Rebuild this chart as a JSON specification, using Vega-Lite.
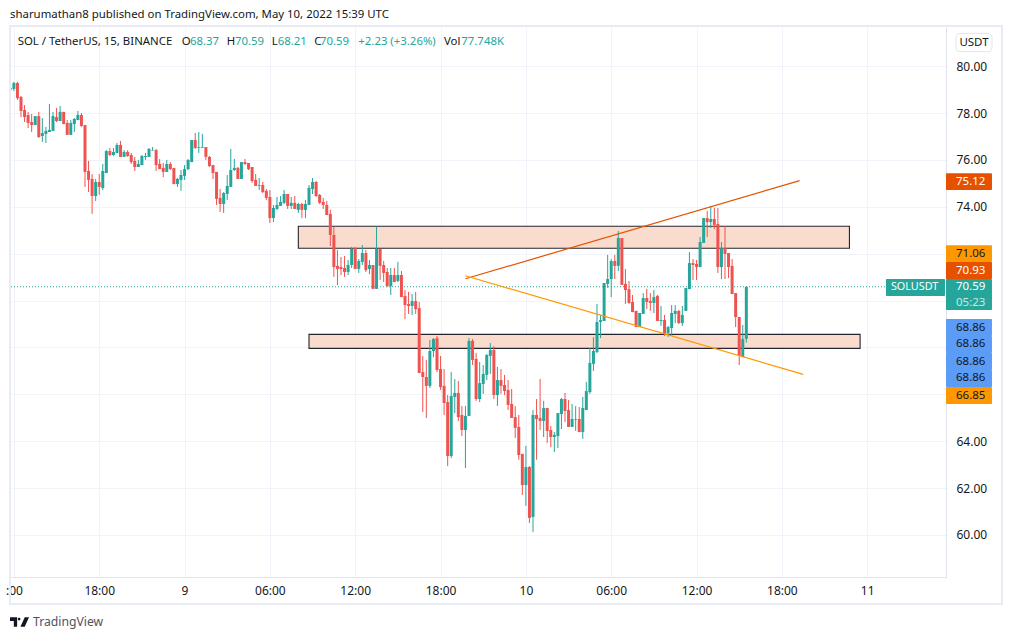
{"$schema":"https://vega.github.io/schema/vega-lite/v6.json","width":935,"height":550,"autosize":{"type":"none"},"padding":{"left":11,"top":27,"right":66,"bottom":63},"background":"#ffffff","view":{"stroke":null},"config":{"font":"Noto Sans","text":{"font":"Noto Sans"}},
"datasets":{"candles":[
{"t":"2022-05-08T11:45Z","o":78.99,"h":79.20,"l":78.77,"c":79.06},
{"t":"2022-05-08T12:00Z","o":79.03,"h":79.33,"l":78.94,"c":79.28},
{"t":"2022-05-08T12:15Z","o":79.28,"h":79.33,"l":78.56,"c":78.64},
{"t":"2022-05-08T12:30Z","o":78.69,"h":78.73,"l":77.83,"c":78.09},
{"t":"2022-05-08T12:45Z","o":78.13,"h":78.34,"l":77.62,"c":77.83},
{"t":"2022-05-08T13:00Z","o":77.92,"h":78.05,"l":77.36,"c":77.58},
{"t":"2022-05-08T13:15Z","o":77.62,"h":77.96,"l":77.19,"c":77.49},
{"t":"2022-05-08T13:30Z","o":77.49,"h":77.87,"l":77.49,"c":77.87},
{"t":"2022-05-08T13:45Z","o":77.87,"h":78.05,"l":76.94,"c":76.98},
{"t":"2022-05-08T14:00Z","o":77.02,"h":77.79,"l":76.77,"c":77.15},
{"t":"2022-05-08T14:15Z","o":77.11,"h":77.41,"l":76.72,"c":77.24},
{"t":"2022-05-08T14:30Z","o":77.19,"h":78.39,"l":77.19,"c":77.28},
{"t":"2022-05-08T14:45Z","o":77.24,"h":78.05,"l":77.24,"c":77.87},
{"t":"2022-05-08T15:00Z","o":77.83,"h":78.22,"l":77.62,"c":77.66},
{"t":"2022-05-08T15:15Z","o":77.66,"h":78.30,"l":77.66,"c":78.05},
{"t":"2022-05-08T15:30Z","o":78.05,"h":78.05,"l":77.53,"c":77.53},
{"t":"2022-05-08T15:45Z","o":77.58,"h":77.70,"l":77.07,"c":77.07},
{"t":"2022-05-08T16:00Z","o":77.07,"h":77.70,"l":77.07,"c":77.58},
{"t":"2022-05-08T16:15Z","o":77.53,"h":77.79,"l":77.19,"c":77.75},
{"t":"2022-05-08T16:30Z","o":77.70,"h":78.09,"l":77.70,"c":77.92},
{"t":"2022-05-08T16:45Z","o":77.92,"h":78.00,"l":77.41,"c":77.45},
{"t":"2022-05-08T17:00Z","o":77.49,"h":77.49,"l":74.85,"c":75.49},
{"t":"2022-05-08T17:15Z","o":75.53,"h":75.96,"l":74.63,"c":75.15},
{"t":"2022-05-08T17:30Z","o":75.19,"h":75.40,"l":73.70,"c":74.46},
{"t":"2022-05-08T17:45Z","o":74.46,"h":75.19,"l":74.25,"c":75.06},
{"t":"2022-05-08T18:00Z","o":75.06,"h":75.40,"l":74.51,"c":74.85},
{"t":"2022-05-08T18:15Z","o":74.80,"h":75.83,"l":74.72,"c":75.53},
{"t":"2022-05-08T18:30Z","o":75.44,"h":76.42,"l":75.44,"c":76.38},
{"t":"2022-05-08T18:45Z","o":76.38,"h":76.51,"l":76.17,"c":76.21},
{"t":"2022-05-08T19:00Z","o":76.21,"h":76.51,"l":76.17,"c":76.34},
{"t":"2022-05-08T19:15Z","o":76.30,"h":76.72,"l":76.30,"c":76.64},
{"t":"2022-05-08T19:30Z","o":76.64,"h":76.81,"l":76.13,"c":76.13},
{"t":"2022-05-08T19:45Z","o":76.13,"h":76.42,"l":76.13,"c":76.34},
{"t":"2022-05-08T20:00Z","o":76.34,"h":76.42,"l":76.13,"c":76.17},
{"t":"2022-05-08T20:15Z","o":76.21,"h":76.30,"l":75.83,"c":75.91},
{"t":"2022-05-08T20:30Z","o":75.96,"h":76.13,"l":75.53,"c":75.70},
{"t":"2022-05-08T20:45Z","o":75.70,"h":76.00,"l":75.70,"c":75.83},
{"t":"2022-05-08T21:00Z","o":75.78,"h":76.21,"l":75.78,"c":76.17},
{"t":"2022-05-08T21:15Z","o":76.13,"h":76.30,"l":76.00,"c":76.17},
{"t":"2022-05-08T21:30Z","o":76.13,"h":76.51,"l":76.13,"c":76.47},
{"t":"2022-05-08T21:45Z","o":76.40,"h":76.55,"l":76.40,"c":76.42},
{"t":"2022-05-08T22:00Z","o":76.42,"h":76.47,"l":75.53,"c":75.78},
{"t":"2022-05-08T22:15Z","o":75.83,"h":76.04,"l":75.61,"c":75.61},
{"t":"2022-05-08T22:30Z","o":75.66,"h":75.87,"l":75.27,"c":75.49},
{"t":"2022-05-08T22:45Z","o":75.49,"h":76.00,"l":75.49,"c":75.83},
{"t":"2022-05-08T23:00Z","o":75.83,"h":75.91,"l":75.57,"c":75.61},
{"t":"2022-05-08T23:15Z","o":75.66,"h":75.66,"l":74.97,"c":74.97},
{"t":"2022-05-08T23:30Z","o":74.97,"h":75.23,"l":74.85,"c":75.19},
{"t":"2022-05-08T23:45Z","o":75.15,"h":75.57,"l":74.68,"c":75.36},
{"t":"2022-05-09T00:00Z","o":75.32,"h":75.78,"l":75.15,"c":75.61},
{"t":"2022-05-09T00:15Z","o":75.61,"h":76.04,"l":75.57,"c":76.00},
{"t":"2022-05-09T00:30Z","o":75.91,"h":76.85,"l":75.91,"c":76.85},
{"t":"2022-05-09T00:45Z","o":76.85,"h":77.15,"l":76.47,"c":76.51},
{"t":"2022-05-09T01:00Z","o":76.51,"h":77.19,"l":76.30,"c":76.54},
{"t":"2022-05-09T01:15Z","o":76.52,"h":77.11,"l":76.51,"c":76.55},
{"t":"2022-05-09T01:30Z","o":76.55,"h":76.55,"l":76.00,"c":76.13},
{"t":"2022-05-09T01:45Z","o":76.13,"h":76.17,"l":75.70,"c":75.74},
{"t":"2022-05-09T02:00Z","o":75.78,"h":75.78,"l":75.19,"c":75.44},
{"t":"2022-05-09T02:15Z","o":75.49,"h":75.49,"l":74.08,"c":74.34},
{"t":"2022-05-09T02:30Z","o":74.38,"h":74.76,"l":73.78,"c":74.12},
{"t":"2022-05-09T02:45Z","o":74.12,"h":74.63,"l":73.74,"c":74.59},
{"t":"2022-05-09T03:00Z","o":74.55,"h":75.36,"l":74.29,"c":74.89},
{"t":"2022-05-09T03:15Z","o":74.85,"h":76.47,"l":74.85,"c":75.57},
{"t":"2022-05-09T03:30Z","o":75.57,"h":76.04,"l":75.53,"c":75.66},
{"t":"2022-05-09T03:45Z","o":75.66,"h":75.70,"l":75.19,"c":75.19},
{"t":"2022-05-09T04:00Z","o":75.19,"h":75.91,"l":75.19,"c":75.91},
{"t":"2022-05-09T04:15Z","o":75.91,"h":76.04,"l":75.78,"c":75.83},
{"t":"2022-05-09T04:30Z","o":75.87,"h":75.87,"l":75.57,"c":75.61},
{"t":"2022-05-09T04:45Z","o":75.70,"h":75.70,"l":75.02,"c":75.10},
{"t":"2022-05-09T05:00Z","o":75.15,"h":75.40,"l":74.89,"c":74.89},
{"t":"2022-05-09T05:15Z","o":74.90,"h":75.23,"l":74.72,"c":74.93},
{"t":"2022-05-09T05:30Z","o":74.93,"h":75.06,"l":74.59,"c":74.63},
{"t":"2022-05-09T05:45Z","o":74.68,"h":74.76,"l":74.29,"c":74.38},
{"t":"2022-05-09T06:00Z","o":74.42,"h":74.72,"l":73.31,"c":73.52},
{"t":"2022-05-09T06:15Z","o":73.52,"h":74.08,"l":73.35,"c":73.95},
{"t":"2022-05-09T06:30Z","o":73.91,"h":74.42,"l":73.87,"c":74.08},
{"t":"2022-05-09T06:45Z","o":74.04,"h":74.46,"l":74.04,"c":74.21},
{"t":"2022-05-09T07:00Z","o":74.17,"h":74.72,"l":74.12,"c":74.55},
{"t":"2022-05-09T07:15Z","o":74.55,"h":74.55,"l":73.91,"c":74.04},
{"t":"2022-05-09T07:30Z","o":74.04,"h":74.42,"l":73.91,"c":74.17},
{"t":"2022-05-09T07:45Z","o":74.17,"h":74.46,"l":73.91,"c":73.91},
{"t":"2022-05-09T08:00Z","o":73.87,"h":74.17,"l":73.74,"c":74.12},
{"t":"2022-05-09T08:15Z","o":74.12,"h":74.17,"l":73.52,"c":73.87},
{"t":"2022-05-09T08:30Z","o":73.87,"h":74.29,"l":73.52,"c":74.12},
{"t":"2022-05-09T08:45Z","o":74.08,"h":74.93,"l":74.08,"c":74.81},
{"t":"2022-05-09T09:00Z","o":74.76,"h":75.23,"l":74.55,"c":75.06},
{"t":"2022-05-09T09:15Z","o":75.06,"h":75.10,"l":74.42,"c":74.46},
{"t":"2022-05-09T09:30Z","o":74.51,"h":74.55,"l":74.12,"c":74.17},
{"t":"2022-05-09T09:45Z","o":74.21,"h":74.38,"l":73.91,"c":74.08},
{"t":"2022-05-09T10:00Z","o":74.08,"h":74.25,"l":73.65,"c":73.65},
{"t":"2022-05-09T10:15Z","o":73.70,"h":73.87,"l":72.33,"c":72.80},
{"t":"2022-05-09T10:30Z","o":72.80,"h":73.14,"l":71.01,"c":71.43},
{"t":"2022-05-09T10:45Z","o":71.48,"h":72.16,"l":70.66,"c":71.35},
{"t":"2022-05-09T11:00Z","o":71.43,"h":71.86,"l":71.09,"c":71.35},
{"t":"2022-05-09T11:15Z","o":71.39,"h":71.90,"l":71.01,"c":71.22},
{"t":"2022-05-09T11:30Z","o":71.22,"h":71.73,"l":71.09,"c":71.52},
{"t":"2022-05-09T11:45Z","o":71.52,"h":72.29,"l":71.39,"c":72.20},
{"t":"2022-05-09T12:00Z","o":72.24,"h":72.29,"l":71.35,"c":71.35},
{"t":"2022-05-09T12:15Z","o":71.35,"h":71.77,"l":71.18,"c":71.69},
{"t":"2022-05-09T12:30Z","o":71.65,"h":72.37,"l":71.52,"c":72.03},
{"t":"2022-05-09T12:45Z","o":72.03,"h":72.16,"l":71.22,"c":71.30},
{"t":"2022-05-09T13:00Z","o":71.35,"h":71.73,"l":71.13,"c":71.52},
{"t":"2022-05-09T13:15Z","o":71.52,"h":71.52,"l":70.50,"c":70.50},
{"t":"2022-05-09T13:30Z","o":70.50,"h":73.15,"l":70.50,"c":72.20},
{"t":"2022-05-09T13:45Z","o":72.20,"h":72.20,"l":70.88,"c":71.48},
{"t":"2022-05-09T14:00Z","o":71.52,"h":71.69,"l":70.79,"c":71.18},
{"t":"2022-05-09T14:15Z","o":71.22,"h":71.39,"l":70.58,"c":70.62},
{"t":"2022-05-09T14:30Z","o":70.62,"h":71.39,"l":70.24,"c":71.09},
{"t":"2022-05-09T14:45Z","o":71.09,"h":71.39,"l":70.79,"c":70.79},
{"t":"2022-05-09T15:00Z","o":70.84,"h":71.65,"l":70.79,"c":71.09},
{"t":"2022-05-09T15:15Z","o":71.09,"h":71.26,"l":70.15,"c":70.15},
{"t":"2022-05-09T15:30Z","o":70.20,"h":70.45,"l":69.21,"c":69.81},
{"t":"2022-05-09T15:45Z","o":69.85,"h":70.37,"l":69.43,"c":69.77},
{"t":"2022-05-09T16:00Z","o":69.77,"h":70.28,"l":69.38,"c":69.98},
{"t":"2022-05-09T16:15Z","o":69.98,"h":70.37,"l":69.43,"c":69.64},
{"t":"2022-05-09T16:30Z","o":69.68,"h":69.94,"l":66.91,"c":66.91},
{"t":"2022-05-09T16:45Z","o":66.95,"h":67.64,"l":65.25,"c":66.74},
{"t":"2022-05-09T17:00Z","o":66.74,"h":67.47,"l":64.99,"c":66.36},
{"t":"2022-05-09T17:15Z","o":66.36,"h":68.32,"l":66.27,"c":67.85},
{"t":"2022-05-09T17:30Z","o":67.85,"h":68.40,"l":67.59,"c":68.36},
{"t":"2022-05-09T17:45Z","o":68.40,"h":68.49,"l":66.95,"c":67.04},
{"t":"2022-05-09T18:00Z","o":67.08,"h":67.64,"l":66.19,"c":66.31},
{"t":"2022-05-09T18:15Z","o":66.36,"h":67.08,"l":65.12,"c":65.63},
{"t":"2022-05-09T18:30Z","o":65.67,"h":65.97,"l":62.94,"c":63.37},
{"t":"2022-05-09T18:45Z","o":63.37,"h":66.95,"l":63.28,"c":65.93},
{"t":"2022-05-09T19:00Z","o":65.89,"h":66.65,"l":65.20,"c":66.06},
{"t":"2022-05-09T19:15Z","o":66.06,"h":66.57,"l":64.86,"c":65.03},
{"t":"2022-05-09T19:30Z","o":65.12,"h":65.50,"l":64.22,"c":64.48},
{"t":"2022-05-09T19:45Z","o":64.48,"h":65.50,"l":62.86,"c":65.08},
{"t":"2022-05-09T20:00Z","o":65.08,"h":68.40,"l":65.08,"c":68.28},
{"t":"2022-05-09T20:15Z","o":68.28,"h":68.36,"l":67.25,"c":67.47},
{"t":"2022-05-09T20:30Z","o":67.51,"h":67.77,"l":65.72,"c":65.80},
{"t":"2022-05-09T20:45Z","o":65.80,"h":67.38,"l":65.67,"c":66.48},
{"t":"2022-05-09T21:00Z","o":66.44,"h":67.25,"l":66.02,"c":66.87},
{"t":"2022-05-09T21:15Z","o":66.83,"h":67.72,"l":66.61,"c":67.68},
{"t":"2022-05-09T21:30Z","o":67.64,"h":68.19,"l":66.87,"c":67.89},
{"t":"2022-05-09T21:45Z","o":67.89,"h":68.06,"l":65.80,"c":65.97},
{"t":"2022-05-09T22:00Z","o":65.97,"h":67.17,"l":65.50,"c":66.61},
{"t":"2022-05-09T22:15Z","o":66.61,"h":67.08,"l":66.02,"c":66.36},
{"t":"2022-05-09T22:30Z","o":66.40,"h":66.83,"l":65.97,"c":66.14},
{"t":"2022-05-09T22:45Z","o":66.19,"h":66.61,"l":65.33,"c":65.55},
{"t":"2022-05-09T23:00Z","o":65.59,"h":66.23,"l":64.99,"c":64.99},
{"t":"2022-05-09T23:15Z","o":65.03,"h":65.50,"l":64.14,"c":64.57},
{"t":"2022-05-09T23:30Z","o":64.61,"h":65.12,"l":63.21,"c":63.41},
{"t":"2022-05-09T23:45Z","o":63.46,"h":63.46,"l":61.71,"c":62.13},
{"t":"2022-05-10T00:00Z","o":62.13,"h":63.80,"l":61.24,"c":62.90},
{"t":"2022-05-10T00:15Z","o":62.90,"h":62.94,"l":60.51,"c":60.73},
{"t":"2022-05-10T00:30Z","o":60.77,"h":65.33,"l":60.13,"c":65.12},
{"t":"2022-05-10T00:45Z","o":65.12,"h":65.80,"l":63.21,"c":64.95},
{"t":"2022-05-10T01:00Z","o":64.99,"h":66.66,"l":64.48,"c":64.86},
{"t":"2022-05-10T01:15Z","o":64.86,"h":65.72,"l":64.18,"c":65.42},
{"t":"2022-05-10T01:30Z","o":65.42,"h":65.42,"l":63.93,"c":64.44},
{"t":"2022-05-10T01:45Z","o":64.48,"h":64.65,"l":63.75,"c":64.18},
{"t":"2022-05-10T02:00Z","o":64.18,"h":64.39,"l":63.54,"c":64.27},
{"t":"2022-05-10T02:15Z","o":64.22,"h":65.20,"l":63.71,"c":65.20},
{"t":"2022-05-10T02:30Z","o":65.16,"h":65.85,"l":64.52,"c":65.80},
{"t":"2022-05-10T02:45Z","o":65.80,"h":66.06,"l":64.82,"c":65.29},
{"t":"2022-05-10T03:00Z","o":65.33,"h":65.76,"l":64.61,"c":64.61},
{"t":"2022-05-10T03:15Z","o":64.61,"h":65.59,"l":64.61,"c":64.95},
{"t":"2022-05-10T03:30Z","o":64.92,"h":65.50,"l":64.44,"c":64.95},
{"t":"2022-05-10T03:45Z","o":64.95,"h":65.46,"l":64.39,"c":64.39},
{"t":"2022-05-10T04:00Z","o":64.39,"h":65.89,"l":64.10,"c":65.42},
{"t":"2022-05-10T04:15Z","o":65.33,"h":66.53,"l":65.33,"c":66.14},
{"t":"2022-05-10T04:30Z","o":66.10,"h":67.98,"l":66.02,"c":67.34},
{"t":"2022-05-10T04:45Z","o":67.30,"h":68.44,"l":67.00,"c":67.85},
{"t":"2022-05-10T05:00Z","o":67.81,"h":69.86,"l":67.76,"c":69.09},
{"t":"2022-05-10T05:15Z","o":69.09,"h":69.39,"l":68.40,"c":69.17},
{"t":"2022-05-10T05:30Z","o":69.13,"h":70.75,"l":69.13,"c":70.75},
{"t":"2022-05-10T05:45Z","o":70.71,"h":71.95,"l":70.54,"c":70.92},
{"t":"2022-05-10T06:00Z","o":70.92,"h":71.77,"l":70.15,"c":71.69},
{"t":"2022-05-10T06:15Z","o":71.69,"h":71.95,"l":70.92,"c":71.48},
{"t":"2022-05-10T06:30Z","o":71.48,"h":72.97,"l":71.26,"c":72.67},
{"t":"2022-05-10T06:45Z","o":72.67,"h":72.67,"l":70.67,"c":70.67},
{"t":"2022-05-10T07:00Z","o":70.71,"h":71.35,"l":69.86,"c":70.45},
{"t":"2022-05-10T07:15Z","o":70.49,"h":70.84,"l":69.86,"c":69.90},
{"t":"2022-05-10T07:30Z","o":69.94,"h":70.24,"l":69.51,"c":69.51},
{"t":"2022-05-10T07:45Z","o":69.56,"h":69.56,"l":68.87,"c":68.87},
{"t":"2022-05-10T08:00Z","o":68.87,"h":69.47,"l":68.87,"c":69.47},
{"t":"2022-05-10T08:15Z","o":69.43,"h":70.32,"l":69.43,"c":70.11},
{"t":"2022-05-10T08:30Z","o":70.11,"h":70.50,"l":69.64,"c":69.94},
{"t":"2022-05-10T08:45Z","o":69.98,"h":70.32,"l":69.56,"c":69.90},
{"t":"2022-05-10T09:00Z","o":69.90,"h":70.45,"l":69.47,"c":70.15},
{"t":"2022-05-10T09:15Z","o":70.20,"h":70.24,"l":69.13,"c":69.13},
{"t":"2022-05-10T09:30Z","o":69.13,"h":69.77,"l":68.92,"c":69.17},
{"t":"2022-05-10T09:45Z","o":69.17,"h":69.39,"l":68.49,"c":68.58},
{"t":"2022-05-10T10:00Z","o":68.62,"h":68.92,"l":68.45,"c":68.87},
{"t":"2022-05-10T10:15Z","o":68.83,"h":69.81,"l":68.49,"c":69.47},
{"t":"2022-05-10T10:30Z","o":69.43,"h":69.81,"l":69.04,"c":69.56},
{"t":"2022-05-10T10:45Z","o":69.56,"h":69.60,"l":69.00,"c":69.04},
{"t":"2022-05-10T11:00Z","o":69.04,"h":69.77,"l":68.92,"c":69.39},
{"t":"2022-05-10T11:15Z","o":69.56,"h":70.54,"l":69.56,"c":70.54},
{"t":"2022-05-10T11:30Z","o":70.49,"h":72.07,"l":70.49,"c":71.60},
{"t":"2022-05-10T11:45Z","o":71.60,"h":71.77,"l":70.88,"c":71.52},
{"t":"2022-05-10T12:00Z","o":71.56,"h":71.73,"l":70.88,"c":71.43},
{"t":"2022-05-10T12:15Z","o":71.43,"h":72.71,"l":71.43,"c":72.50},
{"t":"2022-05-10T12:30Z","o":72.46,"h":73.52,"l":72.46,"c":73.52},
{"t":"2022-05-10T12:45Z","o":73.52,"h":73.82,"l":72.71,"c":73.35},
{"t":"2022-05-10T13:00Z","o":73.35,"h":74.04,"l":73.10,"c":73.48},
{"t":"2022-05-10T13:15Z","o":73.48,"h":73.95,"l":73.05,"c":73.23},
{"t":"2022-05-10T13:30Z","o":73.27,"h":73.95,"l":71.18,"c":71.43},
{"t":"2022-05-10T13:45Z","o":71.43,"h":72.50,"l":70.92,"c":72.24},
{"t":"2022-05-10T14:00Z","o":72.24,"h":73.18,"l":70.92,"c":71.99},
{"t":"2022-05-10T14:15Z","o":72.03,"h":72.03,"l":70.96,"c":71.43},
{"t":"2022-05-10T14:30Z","o":71.48,"h":71.77,"l":70.28,"c":70.28},
{"t":"2022-05-10T14:45Z","o":70.32,"h":70.32,"l":68.87,"c":69.30},
{"t":"2022-05-10T15:00Z","o":69.30,"h":69.30,"l":67.25,"c":67.64},
{"t":"2022-05-10T15:15Z","o":67.59,"h":68.96,"l":67.59,"c":68.36},
{"t":"2022-05-10T15:30Z","o":68.37,"h":70.59,"l":68.21,"c":70.59}
]},
"encoding":{
"x":{"field":"t","type":"temporal","title":null,"scale":{"type":"utc","domain":[1652010469000,1652247144000],"nice":false},"axis":{"values":[1652011200000,1652032800000,1652054400000,1652076000000,1652097600000,1652119200000,1652140800000,1652162400000,1652184000000,1652205600000,1652227200000],"labelExpr":"utcdate(datum.value)==8 && utchours(datum.value)==12 ? '\u00a0\u00a0\u00a0:00' : utchours(datum.value)==0 ? ''+utcdate(datum.value) : utcFormat(datum.value,'%H:%M')","labelFlush":false,"labelOverlap":false,"labelPadding":8,"labelFontSize":12,"labelFont":"Noto Sans","labelColor":"#131722","ticks":false,"grid":true,"gridColor":"#f0f3fa","gridWidth":1,"domainColor":"#e0e3eb","domainWidth":1,"title":null,"zindex":0}},
"y":{"field":"p","type":"quantitative","title":null,"scale":{"domain":[58.208,81.672],"nice":false,"zero":false},"axis":{"orient":"right","values":[60,62,64,66,68,70,72,74,76,78,80],"labelExpr":"datum.value>=66 && datum.value<=72 ? '' : format(datum.value,'.2f')","labelPadding":10,"labelFontSize":12,"labelFont":"Noto Sans","labelColor":"#131722","ticks":false,"grid":true,"gridColor":"#f0f3fa","gridWidth":1,"domainColor":"#e0e3eb","domainWidth":1,"title":null,"zindex":0}}
},
"layer":[
{"data":{"values":[{"t":1652010216470,"t2":1652261313494,"p":81.715,"p2":57.056}]},"mark":{"type":"rect","fill":null,"stroke":"#e8ebf3","strokeWidth":2,"clip":false},"encoding":{"x2":{"field":"t2"},"y2":{"field":"p2"}}},
{"data":{"values":[{"t":1652249669882,"t2":1652258782274,"p":81.40,"p2":80.62}]},"mark":{"type":"rect","fill":"#ffffff","stroke":"#e0e3eb","strokeWidth":1,"cornerRadius":4,"clip":false},"encoding":{"x2":{"field":"t2"},"y2":{"field":"p2"}}},
{"data":{"values":[{"t":1652254226078,"p":81.01,"label":"USDT"}]},"mark":{"type":"text","align":"center","baseline":"middle","fontSize":11.5,"font":"Noto Sans","fill":"#131722","clip":false},"encoding":{"text":{"field":"label"}}},
{"data":{"values":[{"t":1652083200000,"t2":1652222700000,"p":73.17,"p2":72.23},{"t":1652085900000,"t2":1652225400000,"p":68.56,"p2":67.96}]},"mark":{"type":"rect","fill":"#f9dccd","stroke":"#24262e","strokeWidth":1.1},"encoding":{"x2":{"field":"t2"},"y2":{"field":"p2"}}},
{"data":{"values":[{"t":1652010469000,"t2":1652231951342,"p":70.59}]},"mark":{"type":"rule","stroke":"#26a69a","strokeWidth":1,"strokeDash":[1,2]},"encoding":{"x2":{"field":"t2"}}},
{"data":{"name":"candles"},"mark":{"type":"rule","strokeWidth":1,"clip":true},"encoding":{"y":{"field":"h","type":"quantitative","title":null,"scale":{"domain":[58.208,81.672],"nice":false,"zero":false},"axis":{"orient":"right","values":[60,62,64,66,68,70,72,74,76,78,80],"labelExpr":"datum.value>=66 && datum.value<=72 ? '' : format(datum.value,'.2f')","labelPadding":10,"labelFontSize":12,"labelFont":"Noto Sans","labelColor":"#131722","ticks":false,"grid":true,"gridColor":"#f0f3fa","gridWidth":1,"domainColor":"#e0e3eb","domainWidth":1,"title":null,"zindex":0}},"y2":{"field":"l"},"color":{"condition":{"test":"datum.c>=datum.o","value":"#26a69a"},"value":"#ef5350"}}},
{"data":{"name":"candles"},"mark":{"type":"rule","strokeWidth":3,"clip":true},"encoding":{"y":{"field":"o","type":"quantitative","title":null,"scale":{"domain":[58.208,81.672],"nice":false,"zero":false},"axis":{"orient":"right","values":[60,62,64,66,68,70,72,74,76,78,80],"labelExpr":"datum.value>=66 && datum.value<=72 ? '' : format(datum.value,'.2f')","labelPadding":10,"labelFontSize":12,"labelFont":"Noto Sans","labelColor":"#131722","ticks":false,"grid":true,"gridColor":"#f0f3fa","gridWidth":1,"domainColor":"#e0e3eb","domainWidth":1,"title":null,"zindex":0}},"y2":{"field":"c"},"color":{"condition":{"test":"datum.c>=datum.o","value":"#26a69a"},"value":"#ef5350"}}},
{"data":{"values":[{"t":1652125500000,"t2":1652210100000,"p":70.93,"p2":75.12}]},"mark":{"type":"rule","stroke":"#e65100","strokeWidth":1.2},"encoding":{"x2":{"field":"t2"},"y2":{"field":"p2"}}},
{"data":{"values":[{"t":1652125500000,"t2":1652211000000,"p":71.06,"p2":66.85}]},"mark":{"type":"rule","stroke":"#ff9800","strokeWidth":1.2},"encoding":{"x2":{"field":"t2"},"y2":{"field":"p2"}}},
{"data":{"values":[
{"t":1652247138662,"t2":1652258782274,"p":75.43,"p2":74.72,"kind":"up"},
{"t":1652247138662,"t2":1652258782274,"p":72.36,"p2":71.65,"kind":"down"},
{"t":1652247138662,"t2":1652258782274,"p":71.65,"p2":70.92,"kind":"up"},
{"t":1652247138662,"t2":1652258782274,"p":70.92,"p2":69.60,"kind":"last"},
{"t":1652231951342,"t2":1652246900000,"p":70.92,"p2":70.20,"kind":"last"},
{"t":1652247138662,"t2":1652258782274,"p":69.21,"p2":68.49,"kind":"zone"},
{"t":1652247138662,"t2":1652258782274,"p":68.49,"p2":67.76,"kind":"zone"},
{"t":1652247138662,"t2":1652258782274,"p":67.76,"p2":67.04,"kind":"zone"},
{"t":1652247138662,"t2":1652258782274,"p":67.04,"p2":66.31,"kind":"zone"},
{"t":1652247138662,"t2":1652258782274,"p":66.31,"p2":65.59,"kind":"down"}
]},"mark":{"type":"rect","clip":false,"cornerRadius":1},"encoding":{"x2":{"field":"t2"},"y2":{"field":"p2"},"color":{"field":"kind","type":"nominal","legend":null,"scale":{"domain":["up","down","last","zone"],"range":["#e65100","#ff9800","#26a69a","#5b9cf6"]}}}},
{"data":{"values":[
{"t":1652249669882,"p":75.07,"label":"75.12","kind":"up"},
{"t":1652249669882,"p":72.00,"label":"71.06","kind":"down"},
{"t":1652249669882,"p":71.28,"label":"70.93","kind":"up"},
{"t":1652249669882,"p":70.60,"label":"70.59","kind":"last"},
{"t":1652249669882,"p":69.88,"label":"05:23","kind":"timer"},
{"t":1652249669882,"p":68.85,"label":"68.86","kind":"zone"},
{"t":1652249669882,"p":68.13,"label":"68.86","kind":"zone"},
{"t":1652249669882,"p":67.40,"label":"68.86","kind":"zone"},
{"t":1652249669882,"p":66.68,"label":"68.86","kind":"zone"},
{"t":1652249669882,"p":65.95,"label":"66.85","kind":"down"}
]},"mark":{"type":"text","align":"left","baseline":"middle","fontSize":11.5,"font":"Noto Sans","clip":false},"encoding":{"text":{"field":"label"},"color":{"condition":[{"test":"datum.kind=='timer'","value":"#c8ebe6"},{"test":"datum.kind=='up'||datum.kind=='last'","value":"#ffffff"}],"value":"#131722"}}},
{"data":{"values":[{"t":1652233200000,"p":70.56,"label":"SOLUSDT"}]},"mark":{"type":"text","align":"left","baseline":"middle","fontSize":10.8,"font":"Noto Sans","fill":"#ffffff","clip":false},"encoding":{"text":{"field":"label"}}},
{"data":{"values":[
{"t":1652010216470,"p":82.197,"label":"sharumathan8 published on TradingView.com, May 10, 2022 15:39 UTC","kind":"dark"},
{"t":1652012165509,"p":81.05,"label":"SOL / TetherUS, 15, BINANCE","kind":"dark"},
{"t":1652053677517,"p":81.05,"label":"O","kind":"dark"},
{"t":1652055778430,"p":81.05,"label":"68.37","kind":"green"},
{"t":1652065068007,"p":81.05,"label":"H","kind":"dark"},
{"t":1652067168920,"p":81.05,"label":"70.59","kind":"green"},
{"t":1652076458497,"p":81.05,"label":"L","kind":"dark"},
{"t":1652077977229,"p":81.05,"label":"68.21","kind":"green"},
{"t":1652087241494,"p":81.05,"label":"C","kind":"dark"},
{"t":1652088684290,"p":81.05,"label":"70.59","kind":"green"},
{"t":1652098378862,"p":81.05,"label":"+2.23 (+3.26%)","kind":"green"},
{"t":1652120071418,"p":81.05,"label":"Vol","kind":"dark"},
{"t":1652124450428,"p":81.05,"label":"77.748K","kind":"green"}
]},"mark":{"type":"text","align":"left","baseline":"middle","fontSize":11.4,"font":"Noto Sans","clip":false},"encoding":{"text":{"field":"label"},"color":{"condition":{"test":"datum.kind=='green'","value":"#26a69a"},"value":"#131722"}}},
{"data":{"values":[{"t":1652016038276,"p":56.29,"label":"TradingView"}]},"mark":{"type":"text","align":"left","baseline":"middle","fontSize":12.2,"font":"Noto Sans","fill":"#50535e","clip":false},"encoding":{"text":{"field":"label"}}},
{"data":{"values":[{"t":1652012621129,"p":56.29}]},"mark":{"type":"point","filled":true,"fill":"#131722","stroke":null,"opacity":1,"size":361,"clip":false,"shape":"M-1 -0.5H-0.25V0.5H-0.6V-0.1H-1Z M0.1 -0.3A0.14 0.14 0 1 1 -0.18 -0.3A0.14 0.14 0 1 1 0.1 -0.3Z M0.55 -0.5H1L0.55 0.5H0.1Z"}}
]}
